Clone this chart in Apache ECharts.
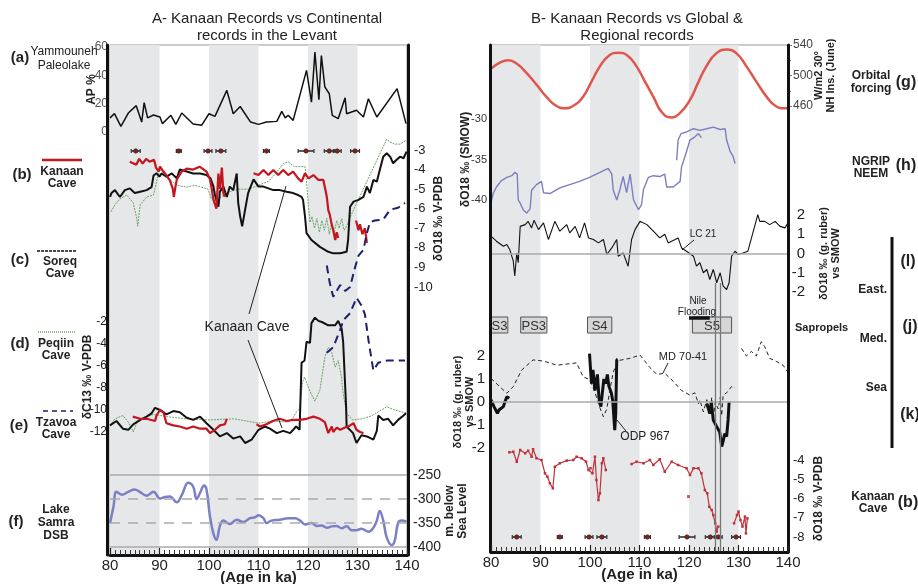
<!DOCTYPE html>
<html>
<head>
<meta charset="utf-8">
<script src="https://cdn.jsdelivr.net/npm/echarts@6/dist/echarts.min.js"></script>
<style>
html, body { margin: 0; padding: 0; background: #fff; }
#chart { width: 918px; height: 584px; }
</style>
</head>
<body>
<div id="chart"></div>
<script>
// ---- data (ages in ka) ----
const grayBands = [[80, 90], [100, 110], [120, 130]];
const kanaanDates = [85.2, 93.9, 99.8, 102.4, 111.6, 119.6, 124.3, 125.9, 129.5];
const kanaanErr = [0.9, 0.5, 0.8, 1.0, 0.6, 1.6, 1.0, 0.8, 0.9];

// (a) Yammouneh AP %
const apYammouneh = [[80,10],[80.9,13],[82.2,4],[83.7,13.4],[85.3,18.6],[86.4,7],[86.9,20.7],[87.6,10],[88.8,12],[90.1,10.6],[90.6,5.9],[92.3,11.8],[93.3,5.4],[94.5,13.4],[96.8,5.6],[98.5,4.7],[100,12.9],[101.2,11],[103.6,29.4],[104.9,12.9],[106.3,18],[108.4,7],[110,5.4],[111.6,7],[113.7,7.5],[114.7,14.6],[115.4,10],[116,11.8],[117,8.2],[119.7,43.5],[120.7,21],[121.4,56.5],[122.2,22.8],[122.7,54],[123.4,31.8],[124.3,27],[124.9,11.8],[126.1,9.4],[127.5,24.2],[127.8,12.9],[129.8,15.3],[131.2,10.6],[132.2,23.5],[133.9,10.6],[138,30.6],[139.8,5.9]];

// (b) Kanaan d18O, left panel
const kanaanO18A = [[84,-3.6],[84.3,-3.5],[85.3,-3.75],[85.9,-3.45],[86.6,-3.7],[87.3,-3.45],[88,-3.6],[88.9,-3.5],[89.3,-3.9],[89.8,-4.1],[90.1,-3.85],[90.8,-4.1],[91.4,-4.3],[92.1,-4.55],[92.7,-5.0],[92.9,-5.4],[93.2,-4.9],[93.5,-4.5],[94.5,-4.1],[95.5,-3.95],[96.8,-4.0],[98.1,-3.85],[99.5,-4.1],[100.2,-4.5],[100.5,-4.9],[100.9,-5.55],[101.5,-6.0],[101.9,-4.2],[102.2,-5.0],[102.6,-3.9],[102.9,-5.2],[103.2,-5.4]];
const kanaanO18B = [[109,-4.19],[110,-4.28],[111,-4.02],[112,-4.28],[113,-4.02],[114,-4.28],[115,-4.02],[116,-4.28],[117,-4.1],[118,-4.45],[118.7,-4.62],[119.4,-4.19],[120.1,-4.45],[121.1,-4.28],[122.1,-4.53],[123.1,-4.53],[123.6,-5.13],[123.8,-5.4],[124.1,-6.07],[124.4,-6.3],[124.7,-6.7],[125.1,-7.1],[125.5,-7.6],[125.8,-7.2],[126.1,-7.5]];
const kanaanO18C = [[129.7,-6.6],[130.2,-7.1],[130.5,-6.8],[131,-7.3],[131.5,-7.0],[131.9,-7.75]];
// (c) Soreq d18O
const soreqO18 = [[80,-5.4],[80.3,-5.2],[81,-5.05],[82,-5.4],[83,-5.05],[84,-4.96],[85,-5.2],[86.1,-5.13],[87.4,-5.05],[88.4,-4.9],[88.8,-4.3],[89.4,-4.19],[90,-4.36],[90.4,-4.2],[91.4,-4.36],[92.5,-4.2],[93.5,-4.45],[94.1,-4.0],[95.5,-4.1],[96.8,-4.2],[98.2,-4.2],[99.5,-4.28],[100.3,-4.45],[100.9,-4.87],[101.2,-5.3],[101.9,-5.9],[102.2,-5.13],[102.9,-4.87],[103.6,-5.4],[104.2,-4.87],[104.9,-5.05],[105.6,-4.2],[105.9,-5.7],[106.3,-6.4],[106.7,-6.9],[107.3,-6.05],[107.9,-5.2],[109,-4.5],[110,-4.87],[111,-4.87],[112,-4.96],[113,-5.05],[114.3,-5.05],[115.7,-5.13],[117,-5.2],[118,-5.3],[118.7,-5.4],[119,-5.55],[119.4,-6.4],[119.7,-7.25],[120.7,-7.6],[122.4,-7.95],[124.1,-8.2],[125.1,-8.28],[126.5,-8.28],[127.8,-8.2],[128.1,-7.6],[128.5,-5.9],[129.2,-5.64],[130.2,-5.55],[131.2,-5.4],[131.9,-4.87],[132.5,-5.2],[133.2,-4.53],[133.9,-4.62],[134.5,-4.02],[135.2,-3.34],[135.9,-3.17],[136.6,-3.34],[137.2,-3.68],[137.9,-3.5],[138.6,-3.34],[139.3,-3.42],[139.9,-3.08]];
// (d) Peqiin d18O
const peqiinO18 = [[80.2,-6.15],[81,-5.8],[82,-5.5],[83.4,-5.3],[84.7,-5.7],[85.4,-6.5],[85.6,-6.9],[86.1,-5.8],[87.4,-5.4],[88.8,-5.3],[89.5,-4.5],[90.1,-4.0],[91,-4.3],[92.5,-4.6],[93.5,-4.8],[95.5,-4.9],[97,-4.8],[98.5,-4.9],[99.8,-5.0],[100.5,-5.5],[101.5,-5.6],[103,-5.3],[104.5,-5.1],[106,-5.0],[108,-5.0],[110,-4.8],[112,-4.6],[113.5,-4.2],[115,-3.7],[116,-3.6],[117.2,-3.85],[118.7,-3.85],[119.4,-3.85],[119.8,-4.9],[120.1,-5.9],[120.4,-6.7],[120.8,-6.4],[121.3,-7.0],[121.8,-6.5],[122.3,-7.2],[122.8,-6.6],[123.3,-7.1],[123.8,-6.5],[124.3,-7.3],[124.8,-6.7],[125.3,-7.2],[125.8,-6.6],[126.3,-7.0],[126.8,-6.5],[127.3,-7.1],[127.8,-6.9],[128.2,-6.6],[135.9,-2.45],[136.6,-2.6],[137.5,-2.7],[138.6,-2.7],[139.9,-2.5]];
// (e) Tzavoa d18O
const tzavoaO18 = [[123.8,-8.9],[124.4,-9.8],[125.1,-10.5],[125.8,-10.2],[126.5,-9.9],[127.5,-10.2],[128.5,-10],[129.5,-9.0],[130.2,-8.4],[131.2,-8.1],[131.9,-7.25],[132.5,-6.7],[133.5,-6.6],[135.2,-6.55],[136.6,-6.05],[138.2,-5.95],[139.6,-5.7]];

// d13C (left panel)
const soreqC13 = [[80,-11.4],[81.3,-11.0],[82.6,-11.7],[83.7,-11.8],[84.7,-11.3],[86.1,-10.9],[87.4,-10.6],[88.4,-10.3],[89.1,-9.8],[90.1,-10.0],[91.4,-10.4],[92.8,-10.1],[94.1,-10.2],[95.5,-10.7],[96.8,-10.9],[98.2,-10.6],[99.5,-11.2],[100.9,-11.8],[102.2,-12.4],[103.6,-12.1],[104.9,-12.6],[106.3,-12.4],[107.3,-13.0],[108.6,-12.7],[110,-11.8],[111.3,-11.5],[112.3,-11.7],[113.7,-12.1],[115,-11.9],[116.4,-12.1],[117.6,-11.5],[118.3,-11.8],[118.7,-5.7],[119.3,-5.5],[119.7,-3.8],[120.4,-3.9],[120.7,-2.1],[121.4,-1.6],[122.1,-1.9],[122.8,-2.0],[124.1,-2.3],[125.5,-2.3],[126.1,-1.9],[126.8,-2.6],[127.1,-3.8],[127.5,-3.9],[127.7,-9.7],[127.8,-11.5],[129.1,-12.1],[129.8,-13.0],[130.8,-12.3],[131.9,-12.4],[133.2,-12.7],[133.9,-11.9],[134.2,-10.5],[135.2,-10.9],[136.2,-10.8],[137.2,-11.4],[138.2,-10.9],[139.3,-10.5],[139.8,-10.3]];
const kanaanC13A = [[84.6,-10.6],[86.1,-10.8],[87.4,-10.8],[89.1,-11.0],[89.4,-10.5],[90.1,-10.0],[90.8,-10.2],[91.4,-11.2],[92.8,-11.4],[94.1,-11.5],[95.5,-11.7],[96.8,-11.5],[98.2,-11.7],[99.5,-11.7],[100.2,-12.1],[101.2,-11.8],[102.2,-11.4],[103.2,-11.3],[103.6,-10.8]];
const kanaanC13B = [[109.6,-11.3],[110.3,-11.5],[111.6,-11.3],[112.9,-11.0],[114.3,-10.8],[115.7,-11.0],[117,-10.9],[118.3,-10.9],[119.7,-10.8],[121.1,-10.6],[122.4,-10.8],[123.4,-11.1],[124.1,-12.1],[124.8,-11.5],[125.1,-12.0],[125.8,-11.6],[126.5,-11.8],[127.5,-11.6],[128.5,-11.4],[129.2,-11.2],[129.8,-11.8],[130.5,-12.0],[131.2,-12.1]];
const peqiinC13 = [[80,-11.4],[81,-10.8],[82.6,-10.5],[83.7,-11.1],[84.7,-12.0],[85.4,-11.2],[86.7,-10.7],[88.8,-10.4],[91.4,-10.6],[95.5,-10.8],[100,-10.9],[105,-10.8],[110,-11.2],[113,-11.0],[116,-11.1],[117,-10.7],[117.6,-10.2],[118.3,-9.9],[118.9,-7.5],[119.3,-7.0],[119.7,-7.5],[120.4,-8.3],[121.4,-9.2],[122.4,-8.2],[123.4,-5.2],[124.1,-4.3],[124.8,-4.8],[125.5,-6.1],[126.1,-5.5],[126.8,-7.1],[127.1,-8.5],[127.8,-10.3],[129,-10.9],[131,-10.8],[133,-10.5],[135.9,-9.7],[137.5,-10.0],[140,-10.3]];
const tzavoaC13 = [[123.8,-4.8],[125.1,-4.3],[126.5,-2.7],[127.2,-1.8],[128.5,-1.2],[129.8,0.2],[130.8,-0.5],[131.5,-1.3],[132.2,-3.6],[133.2,-6.4],[134.2,-5.7],[136,-5.5],[138,-5.5],[139.6,-5.5]];

// (f) Lake Samra level (m below sea level)
const lakeSamra = [[80,-350.7],[80.7,-316],[81.3,-285],[82.4,-291],[83.7,-285],[85,-280],[86,-285],[87.4,-293],[88.8,-285],[90.1,-299],[91.1,-296],[92.1,-295],[93.5,-307],[94.5,-292],[95.8,-266],[96.8,-274],[97.5,-300],[98.2,-287],[99,-272],[99.5,-280],[100.2,-337],[100.9,-372],[101.5,-385],[102.2,-356],[102.9,-345],[104.2,-352],[105.6,-343],[106.9,-348],[108.3,-340],[109.3,-338],[110,-334],[111,-340],[111.6,-350],[112.6,-345],[114.3,-343],[116,-340],[117.4,-340],[118.4,-345],[119.4,-353],[120.7,-350],[121.7,-356],[122.7,-355],[123.8,-360],[124.8,-357],[125.8,-356],[126.8,-361],[127.8,-357],[128.8,-365],[129.8,-365],[130.8,-362],[132.2,-368],[133.2,-360],[133.9,-345],[134.5,-325],[135.2,-345],[135.9,-380],[136.9,-396],[137.5,-388],[138.2,-350],[138.9,-345],[139.9,-347]];

// (g) NH insolation 30N June
const insolation = [[80,509],[81.8,517],[83.5,520],[85.3,515],[87.2,503],[89.2,488],[91.2,472],[93,461],[94.9,457],[96.8,461],[98.6,472],[100.3,492],[102,512],[103.8,526],[105.7,530],[107.6,526],[109.4,512],[111.1,492],[112.8,472],[114.5,452],[116.3,445],[118.2,451],[120.2,468],[121.8,490],[123.5,512],[125.5,529],[127.6,534],[129.6,529],[131.6,512],[133.6,492],[135.7,472],[137.5,460],[139.4,457],[140,457]];
// (h) NGRIP / NEEM
const ngrip = [[80,-40.3],[80.5,-39.1],[81.1,-38.4],[82.1,-37.6],[83.2,-37.2],[84.2,-37.0],[84.8,-36.6],[85.3,-36.8],[85.5,-40.0],[85.9,-40.4],[86.5,-41.2],[87.2,-41.6],[87.9,-41.1],[88.2,-38.8],[89.2,-38.1],[90.2,-37.7],[90.6,-39.1],[91.9,-39.2],[93.9,-38.5],[95.9,-38.1],[97.9,-37.7],[99.9,-37.2],[102,-36.6],[103.7,-36.1],[104.4,-36.8],[104.7,-38.8],[105.4,-40.0],[106,-38.8],[106.7,-37.1],[107.4,-39.1],[108.1,-36.8],[108.8,-40.0],[109.8,-41.2],[110.4,-40.6],[110.8,-38.7],[111.8,-37.2],[112.8,-37.0],[114.1,-37.1],[115.1,-36.8],[115.5,-38.4],[116.8,-38.4],[118.2,-37.7],[118.5,-35.9],[119.2,-34.6],[120.2,-32.6],[121.2,-32.2],[121.9,-31.8],[122.5,-32.3]];
const neem = [[117.5,-35.1],[117.8,-32.6],[118.4,-31.8],[119.5,-31.6],[120.9,-31.2],[122.2,-31.4],[123.6,-31.2],[124.9,-31.0],[126.3,-31.3],[127.3,-31.2],[127.6,-32.6],[128.3,-34.0],[128.9,-34.6],[129.3,-35.5]];
// (i) LC21
const lc21 = [[80,0.9],[81.1,0.64],[82.5,0.38],[83.2,0.47],[83.8,0.2],[84.5,-0.4],[84.8,-1.17],[85.2,0.03],[85.5,-0.48],[85.9,1.41],[86.9,1.5],[87.5,1.67],[88.2,1.33],[88.7,1.73],[89.6,1.24],[90.6,1.59],[91.6,0.73],[92.9,1.67],[93.9,1.16],[95.3,1.5],[95.9,1.07],[97,1.41],[97.9,0.81],[98.9,1.59],[99.7,0.81],[100.7,0.73],[101.7,0.55],[102.7,0.73],[103.4,-0.05],[104.4,0.29],[105.4,0.73],[105.7,-0.14],[106.7,0.03],[107.7,-0.66],[108.4,0.73],[109.1,1.24],[110.1,1.67],[111.5,1.5],[112.8,1.16],[114.1,0.81],[115.1,1.0],[115.8,0.55],[117.2,0.73],[117.8,0.81],[118.5,0.29],[119.5,0.12],[120.9,-0.14],[121.5,-0.66],[122.2,-0.48],[122.9,-1.0],[123.6,-0.83],[124.2,-1.35],[124.9,-0.83],[125.6,-1.52],[126.3,-1.0],[126.9,-1.69],[127.6,-1.87],[128.1,-1.52],[128.6,-0.14],[129.3,0.12],[129.9,-0.05],[130.9,0.03],[131.9,0.12],[132.9,1.07],[133.9,2.02],[134.3,1.67],[135.3,1.67],[136.3,1.5],[137.4,1.67],[138.4,1.41],[139.4,1.33],[140,1.59]];
// sapropels
const sapropelNames = ['S3', 'PS3', 'S4', 'S5'];
const sapropelStart = [80, 86.0, 99.5, 120.7];
const sapropelEnd = [83.4, 91.3, 104.4, 128.6];
const nileFlooding = [120, 124.2];
// (k) ODP 967 and MD 70-41
const odp967A = [[80,0.09],[80.6,-0.2],[81.3,-0.49],[81.6,-0.35],[82.5,-0.2],[82.8,0],[83.2,0.23],[83.5,0.3],[83.7,0.16]];
const odp967B = [[99.9,2.1],[100.3,0.8],[100.6,1.4],[101,0.5],[101.5,1.2],[101.8,0.2],[102.2,-0.2],[102.5,0.42],[102.8,1.0],[103.2,0.8],[103.5,1.2],[103.8,0.7],[104.3,0.4],[104.6,0.04],[105,-1.22],[105.2,-0.5],[105.4,1.83],[105.6,1.85]];
const odp967C = [[123.6,-0.06],[124.2,-0.5],[124.5,0],[124.9,-0.78],[125.6,-1.07],[126.2,-1.3],[126.6,-1.94],[126.9,-1.7],[127.2,-1.38],[127.6,-1.5],[127.9,-0.78],[128.1,0.0]];
const md7041A = [[80,1.03],[81.6,0.7],[83.2,0.38],[84.5,0.67],[86.2,1.39],[88.5,1.83],[90.6,1.78],[93.3,1.6],[97.3,1.7],[98.6,1.1],[99.9,0.97],[100.9,0.5],[101.7,-0.08],[102.4,-0.48],[102.7,-0.64],[103.4,-0.3],[104,0.5],[104.7,1.3],[105.7,1.8],[108.1,1.9],[110.1,2.04],[112.1,1.5],[113.5,1.2],[115.1,1.25],[116.8,0.9],[118.5,0.5],[120.2,0.3],[121.2,0.4],[121.9,-0.08],[122.2,0.09],[122.9,-0.43],[123.6,0.1],[124.2,-0.5],[124.6,0.2],[124.9,-0.78],[125.3,0.0],[125.9,-0.3],[126.3,0.2],[126.6,-0.6],[126.9,0.3],[127.6,0.4],[128.6,0.67],[129.3,0.6]];
const md7041B = [[130.6,2.33],[131.6,2.0],[132.6,2.2],[133.6,2.0],[134.6,2.62],[135.3,2.4],[136.3,1.9],[137.6,1.77],[139,1.6],[140,1.3]];
// (b) Kanaan d18O, right panel
const kanaanR1 = [[83.7,-3.6],[84.5,-3.57],[85.2,-4.09],[85.9,-3.48],[86.9,-3.65],[87.5,-3.52],[88.2,-3.83],[88.5,-3.44],[89.2,-3.91],[90.2,-4.0],[90.9,-4.69],[91.4,-4.87],[91.9,-5.21],[92.5,-5.47],[92.9,-4.35],[93.9,-4.17],[95.3,-4.03],[96.6,-4.0],[97.3,-3.83],[98.3,-3.91],[99.2,-4.09],[99.7,-4.52],[100.1,-4.43],[100.5,-4.69],[101,-3.83],[101.3,-5.04],[101.7,-6.08],[102,-5.73],[102.4,-4.17],[102.7,-3.91],[103.2,-4.52]];
const kanaanR2 = [[108.4,-4.21],[109.4,-4.09],[110.8,-4.17],[112.1,-4.0],[112.8,-4.26],[114.1,-3.96],[115.1,-4.61],[116.5,-4.09],[117.8,-4.26],[119.5,-4.43],[120.2,-4.78],[120.9,-4.43],[121.9,-4.43],[122.5,-4.69],[123.2,-5.56],[123.7,-5.73],[124.1,-6.43],[124.6,-6.6],[124.9,-6.86],[125.3,-7.29],[125.6,-7.72],[125.9,-7.46]];
const kanaanR3 = [[129.1,-7.29],[129.7,-6.86],[130,-6.68],[130.4,-7.12],[130.8,-7.46],[131.3,-6.94],[131.5,-7.81],[131.8,-7.03]];
const kanaanRpoint = [[119.9,-5.9]];
const terminationLines = [125.4, 126.3];

// ---- layout helpers ----
const FONT = '"Liberation Sans", Arial, sans-serif';
const NARROW = '"Liberation Sans Narrow", "Arial Narrow", "Liberation Sans", sans-serif';
const LX = 110, RX = 491, PW = 297;
const grids = [], xAxes = [], yAxes = [], series = [];

function lab(size, color, margin) {
    return { fontSize: size, color: color, margin: margin, fontFamily: NARROW };
}
function nm(size) {
    return { fontSize: size, fontWeight: 'bold', color: '#222', fontFamily: FONT, lineHeight: size + 1 };
}
function addPanel(left, top, height, yOpt, xOpt) {
    const g = grids.length;
    grids.push({ left: left, top: top, width: PW, height: height, outerBoundsMode: 'none' });
    xAxes.push(Object.assign({ gridIndex: g, type: 'value', min: 80, max: 140, show: false }, xOpt || {}));
    yAxes.push(Object.assign({
        gridIndex: g, type: 'value', splitLine: { show: false },
        axisLine: { show: false }, axisTick: { show: false },
        nameLocation: 'middle', nameRotate: 90, nameMoveOverlap: false
    }, yOpt));
    return g;
}
const frameX = {
    show: true, interval: 10, position: 'bottom', z: 6,
    axisLine: { show: true, onZero: false, lineStyle: { color: '#111', width: 3 } },
    axisTick: { show: true, inside: true, length: 7, lineStyle: { color: '#222', width: 1.2 } },
    minorTick: { show: true, splitNumber: 10, length: 5, lineStyle: { color: '#333', width: 1 } },
    axisLabel: { fontSize: 15, color: '#222', fontFamily: NARROW, margin: 3 },
    splitLine: { show: false },
    name: '(Age in ka)', nameLocation: 'middle', nameGap: 15, nameMoveOverlap: false,
    nameTextStyle: { fontWeight: 'bold', fontSize: 15, color: '#222', fontFamily: FONT }
};
function frameY(offset) {
    return { min: 0, max: 1, position: 'left', offset: offset, axisLabel: { show: false }, z: 6,
        axisLine: { show: true, lineStyle: { color: '#111', width: 3 } } };
}

// ---- left panel ----
const gFL = addPanel(LX, 45, 510, frameY(3), frameX);
const gAP = addPanel(LX, 47, 85, { min: 0, max: 60, interval: 20, position: 'left',
    axisLabel: lab(12, '#555', 2), name: 'AP %', nameGap: 12, nameTextStyle: nm(12) });
const gO18L = addPanel(LX, 150, 137, { min: -10, max: -3, interval: 1, position: 'right', offset: 1,
    axisLabel: lab(13, '#222', 6), name: 'δO18 ‰ V-PDB', nameGap: 24, nameTextStyle: nm(12) });
const gC13L = addPanel(LX, 300, 154, { min: -14, max: 0, interval: 2, position: 'left',
    axisLabel: Object.assign(lab(12, '#222', 3), { formatter: v => (v === 0 || v === -14) ? '' : v }),
    name: 'δC13 ‰ V-PDB', nameGap: 16, nameTextStyle: nm(12) });
const gSamra = addPanel(LX, 475, 72, { min: -400, max: -250, interval: 50, position: 'right', offset: 1,
    axisLabel: lab(14, '#222', 5), name: 'm. below\nSea Level', nameGap: 35, nameTextStyle: nm(12) });

// ---- right panel ----
const gFR = addPanel(RX, 45, 507, frameY(1), frameX);
const gIns = addPanel(RX, 45, 61, { min: 460, max: 540, interval: 40, position: 'right',
    axisTick: { show: true, length: 4, lineStyle: { color: '#777' } },
    minorTick: { show: true, splitNumber: 2, length: 3, lineStyle: { color: '#777' } },
    axisLabel: lab(12, '#444', 5), name: 'W/m2 30°\nNH Ins. (June)', nameGap: 25, nameTextStyle: nm(11) });
const gNG = addPanel(RX, 119, 81, { min: -40, max: -30, interval: 5, position: 'left',
    axisLabel: lab(11, '#333', 4), name: 'δO18 ‰ (SMOW)', nameGap: 19, nameTextStyle: nm(12) });
const gLC = addPanel(RX, 215, 77, { min: -2, max: 2, interval: 1, position: 'right',
    axisLabel: Object.assign(lab(15, '#222', 17), { align: 'right' }),
    name: 'δO18 ‰ (g. ruber)\nvs SMOW', nameGap: 30, nameTextStyle: nm(11) });
const gSap = addPanel(RX, 317, 16, { min: 0, max: 1, show: false });
const gODP = addPanel(RX, 356, 92, { min: -2, max: 2, interval: 1, position: 'left',
    axisLabel: lab(15, '#222', 6), name: 'δO18 ‰ (g. ruber)\nvs SMOW', nameGap: 15, nameTextStyle: nm(11) });
const gKR = addPanel(RX, 460, 77, { min: -8, max: -4, interval: 1, position: 'right',
    axisLabel: lab(13, '#222', 5), name: 'δO18 ‰ V-PDB', nameGap: 24, nameTextStyle: nm(12) });
const gVL = addPanel(RX, 283, 269, { min: 0, max: 1, show: false });

// thick right borders of both frames
[[gFL, 1], [gFR, 0]].forEach(([g, off]) => {
    yAxes.push({ gridIndex: g, type: 'value', min: 0, max: 1, position: 'right', offset: off, z: 6,
        axisLabel: { show: false }, axisTick: { show: false }, splitLine: { show: false },
        axisLine: { show: true, lineStyle: { color: '#111', width: 3 } } });
});
grids[gFL].show = true; grids[gFL].borderColor = '#999'; grids[gFL].borderWidth = 1;
grids[gFR].show = true; grids[gFR].borderColor = '#999'; grids[gFR].borderWidth = 1;

// ---- series ----
function line(g, data, color, width, type, extra) {
    series.push(Object.assign({
        type: 'line', xAxisIndex: g, yAxisIndex: g, data: data, symbol: 'none',
        clip: false, z: 3, silent: true,
        lineStyle: { color: color, width: width, type: type || 'solid' }
    }, extra || {}));
}
[gFL, gFR].forEach(g => {
    series.push({ type: 'line', xAxisIndex: g, yAxisIndex: g, data: [], z: 1, silent: true,
        markArea: { silent: true, itemStyle: { color: '#e6e7e8' },
            data: grayBands.map(b => [{ xAxis: b[0] }, { xAxis: b[1] }]) } });
});
function errBars(g, level) {
    series.push({
        type: 'custom', xAxisIndex: g, yAxisIndex: g, z: 4, clip: false, silent: true,
        data: kanaanDates.map((d, i) => [d, kanaanErr[i]]),
        encode: { x: 0 },
        renderItem: (p, api) => {
            const x = api.value(0), e = api.value(1);
            const a = api.coord([x - e, level]), b = api.coord([x + e, level]), c = api.coord([x, level]);
            return { type: 'group', children: [
                { type: 'line', shape: { x1: a[0], y1: a[1], x2: b[0], y2: b[1] }, style: { stroke: '#333', lineWidth: 1.6 } },
                { type: 'line', shape: { x1: a[0], y1: a[1] - 2, x2: a[0], y2: a[1] + 2 }, style: { stroke: '#333', lineWidth: 1.2 } },
                { type: 'line', shape: { x1: b[0], y1: b[1] - 2, x2: b[0], y2: b[1] + 2 }, style: { stroke: '#333', lineWidth: 1.2 } },
                { type: 'circle', shape: { cx: c[0], cy: c[1], r: 2.2 }, style: { fill: '#8a1f1f', stroke: '#222', lineWidth: 0.6 } }
            ] };
        }
    });
}

// left
line(gAP, apYammouneh, '#111', 1.5);
line(gO18L, peqiinO18, '#5a9a5a', 0.9, [2, 1]);
line(gO18L, soreqO18, '#111', 2);
[kanaanO18A, kanaanO18B, kanaanO18C].forEach(d => line(gO18L, d, '#c4161e', 2.2));
line(gO18L, tzavoaO18, '#1e1f6e', 2, [8, 5]);
errBars(gO18L, -3.05);
line(gC13L, peqiinC13, '#5a9a5a', 0.9, [2, 1]);
line(gC13L, soreqC13, '#111', 2);
[kanaanC13A, kanaanC13B].forEach(d => line(gC13L, d, '#c4161e', 2.2));
line(gC13L, tzavoaC13, '#1e1f6e', 2, [8, 5]);
line(gSamra, lakeSamra, '#7b7fc6', 2.5, 'solid', {
    smooth: 0.4,
    markLine: { silent: true, symbol: 'none', label: { show: false },
        lineStyle: { color: '#aaa', width: 1.5 },
        data: [
            { yAxis: -250, lineStyle: { type: 'solid' } },
            { yAxis: -300, lineStyle: { type: [10, 8] } },
            { yAxis: -350, lineStyle: { type: [10, 8] } },
            { yAxis: -400, lineStyle: { type: 'solid' } }
        ] }
});

// right
line(gIns, insolation, '#e0564c', 2.5, 'solid', { smooth: 0.5 });
line(gNG, ngrip, '#7b7fc0', 1.4);
line(gNG, neem, '#7b7fc0', 1.4);
line(gLC, lc21, '#111', 1.1, 'solid', {
    markLine: { silent: true, symbol: 'none', label: { show: false },
        lineStyle: { color: '#aaa', width: 1.5, type: 'solid' }, data: [{ yAxis: 0 }] }
});
series.push({
    type: 'custom', xAxisIndex: gSap, yAxisIndex: gSap, z: 3, silent: true, clip: false,
    data: sapropelNames.map((n, i) => ({ name: n, value: [sapropelStart[i], sapropelEnd[i]] })),
    encode: { x: [0, 1] },
    renderItem: (p, api) => {
        const a = api.coord([api.value(0), 1]), b = api.coord([api.value(1), 0]);
        return { type: 'group', children: [
            { type: 'rect', shape: { x: a[0], y: a[1], width: b[0] - a[0], height: b[1] - a[1] },
                style: { fill: '#d6d6d6', stroke: '#555', lineWidth: 1 } },
            { type: 'text', x: (a[0] + b[0]) / 2, y: (a[1] + b[1]) / 2 + 1,
                style: { text: sapropelNames[p.dataIndex], font: '13px ' + FONT, fill: '#333', align: 'center', verticalAlign: 'middle' } }
        ] };
    }
});
line(gSap, nileFlooding.map(x => [x, 0.94]), '#111', 3.5, 'solid', { z: 5 });
line(gODP, [], '#000', 0, 'solid', {
    markLine: { silent: true, symbol: 'none', label: { show: false },
        lineStyle: { color: '#aaa', width: 1.5, type: 'solid' }, data: [{ yAxis: 0 }] }
});
[md7041A, md7041B].forEach(d => line(gODP, d, '#222', 1, [4, 3]));
[odp967A, odp967B, odp967C].forEach(d => line(gODP, d, '#111', 3));
[kanaanR1, kanaanR2, kanaanR3].forEach(d => line(gKR, d, '#c0303a', 1.2, 'solid',
    { symbol: 'rect', symbolSize: 2.5, showSymbol: true, itemStyle: { color: '#c0303a' } }));
series.push({ type: 'scatter', xAxisIndex: gKR, yAxisIndex: gKR, data: kanaanRpoint, symbol: 'rect',
    symbolSize: 3, itemStyle: { color: '#c0303a' }, silent: true, z: 3 });
errBars(gKR, -8);
line(gVL, [], '#000', 0, 'solid', {
    markLine: { silent: true, symbol: 'none', label: { show: false },
        lineStyle: { color: '#777', width: 1.3, type: 'solid' },
        data: terminationLines.map(x => ({ xAxis: x })) }
});

// ---- texts and annotations ----
function txt(x, y, t, size, bold, align, font) {
    return { type: 'text', x: x, y: y, silent: true, z: 100,
        style: { text: t, font: (bold ? 'bold ' : '') + size + 'px ' + (font || FONT), fill: '#222',
            align: align || 'center', verticalAlign: 'middle' } };
}
function seg(x1, y1, x2, y2, color, w, dash) {
    return { type: 'line', silent: true, z: 100, shape: { x1: x1, y1: y1, x2: x2, y2: y2 },
        style: { stroke: color, lineWidth: w, lineDash: dash || null } };
}
const graphics = [
    txt(267, 19, 'A- Kanaan Records vs Continental', 15), txt(267, 36, 'records in the Levant', 15),
    txt(637, 19, 'B- Kanaan Records vs Global &', 15), txt(637, 36, 'Regional records', 15),
    txt(20, 58, '(a)', 15, true), txt(64, 52, 'Yammouneh', 12), txt(64, 66, 'Paleolake', 12),
    txt(22, 175, '(b)', 15, true), seg(42, 160, 82, 160, '#c4161e', 2.5),
    txt(62, 172, 'Kanaan', 12, true), txt(62, 184, 'Cave', 12, true),
    txt(20, 260, '(c)', 15, true), seg(37, 251, 77, 251, '#111', 1.6, [3, 1]),
    txt(60, 262, 'Soreq', 12, true), txt(60, 274, 'Cave', 12, true),
    txt(20, 344, '(d)', 15, true), seg(38, 332, 75, 332, '#4e8f4e', 1.2, [1, 1]),
    txt(56, 344, 'Peqiin', 12, true), txt(56, 356, 'Cave', 12, true),
    txt(19, 426, '(e)', 15, true), seg(43, 411, 73, 411, '#1e1f6e', 1.5, [5, 4]),
    txt(56, 423, 'Tzavoa', 12, true), txt(56, 435, 'Cave', 12, true),
    txt(16, 522, '(f)', 15, true),
    txt(56, 510, 'Lake', 12, true), txt(56, 523, 'Samra', 12, true), txt(56, 536, 'DSB', 12, true),
    txt(247, 327, 'Kanaan Cave', 14),
    seg(249, 314, 286, 186, '#222', 1), seg(248, 340, 282, 428, '#222', 1),
    // right panel annotations
    txt(703, 234, 'LC 21', 10, false, 'center', NARROW), seg(694, 240, 682, 250, '#222', 1),
    txt(698, 301, 'Nile', 10, false, 'center', NARROW), txt(697, 312, 'Flooding', 10, false, 'center', NARROW),
    txt(683, 357, 'MD 70-41', 11, false, 'center', NARROW), seg(668, 363, 663, 373, '#222', 1),
    txt(645, 437, 'ODP 967', 12, false, 'center', NARROW), seg(617, 420, 626, 431, '#222', 1),
    txt(795, 328, 'Sapropels', 11, true, 'left'),
    txt(871, 76, 'Orbital', 12, true), txt(871, 89, 'forcing', 12, true), txt(906, 83, '(g)', 16, true),
    txt(871, 162, 'NGRIP', 12, true), txt(871, 174, 'NEEM', 12, true), txt(906, 166, '(h)', 16, true),
    seg(892, 237, 892, 448, '#111', 3),
    txt(908, 262, '(l)', 16, true), txt(910, 327, '(j)', 16, true), txt(910, 415, '(k)', 16, true),
    txt(887, 290, 'East.', 12, true, 'right'), txt(887, 339, 'Med.', 12, true, 'right'), txt(887, 388, 'Sea', 12, true, 'right'),
    txt(873, 497, 'Kanaan', 12, true), txt(873, 509, 'Cave', 12, true), txt(908, 503, '(b)', 16, true)
];

const chart = echarts.init(document.getElementById('chart'));
chart.setOption({
    animation: false,
    backgroundColor: '#fff',
    textStyle: { fontFamily: FONT },
    grid: grids, xAxis: xAxes, yAxis: yAxes,
    series: series,
    graphic: { elements: graphics }
});
</script>
</body>
</html>
